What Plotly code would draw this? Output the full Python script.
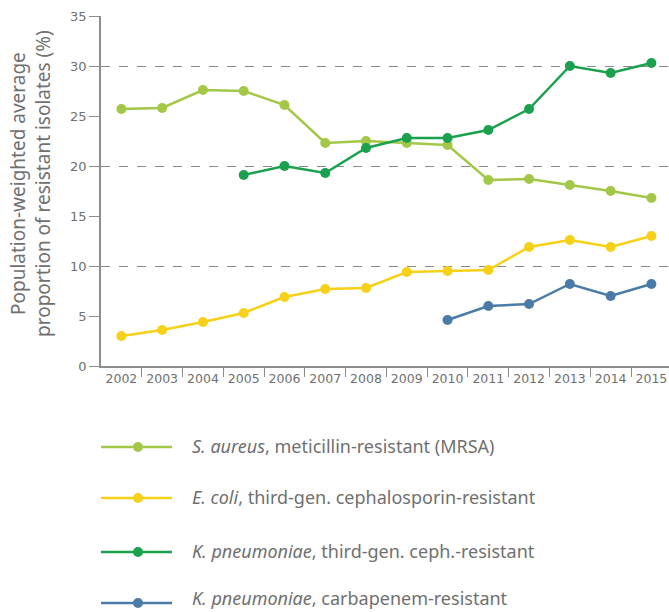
import plotly.graph_objects as go

years = list(range(2002, 2016))
mrsa = [25.7, 25.8, 27.6, 27.5, 26.1, 22.3, 22.5, 22.3, 22.1, 18.6, 18.7, 18.1, 17.5, 16.8]
ecoli = [3.0, 3.6, 4.4, 5.3, 6.9, 7.7, 7.8, 9.4, 9.5, 9.6, 11.9, 12.6, 11.9, 13.0]
kp3gc_years = list(range(2005, 2016))
kp3gc = [19.1, 20.0, 19.3, 21.8, 22.8, 22.8, 23.6, 25.7, 30.0, 29.3, 30.3]
kpcarb_years = list(range(2010, 2016))
kpcarb = [4.6, 6.0, 6.2, 8.2, 7.0, 8.2]

names = [
    "<i>S. aureus</i>, meticillin-resistant (MRSA)",
    "<i>E. coli</i>, third-gen. cephalosporin-resistant",
    "<i>K. pneumoniae</i>, third-gen. ceph.-resistant",
    "<i>K. pneumoniae</i>, carbapenem-resistant",
]
colors = ["#a3c747", "#f7d117", "#1ba14e", "#4a7ba6"]
series = [(years, mrsa), (years, ecoli), (kp3gc_years, kp3gc), (kpcarb_years, kpcarb)]

FONT = "Noto Sans"
TICKFONT = "DejaVu Sans"
GRAY = "#707070"
AX = "#8c8c8c"

fig = go.Figure()
for (xs, ys), c, n in zip(series, colors, names):
    fig.add_trace(go.Scatter(
        x=xs, y=ys, mode="lines+markers", name=n,
        line=dict(color=c, width=2.5),
        marker=dict(color=c, size=10),
        showlegend=False,
    ))

W, H = 669, 612
L, R, T, B = 101, 0, 16, 246
pw, ph = W - L - R, H - T - B

def px_x(p):
    return (p - L) / pw

def px_y(p):
    return (H - B - p) / ph

legend_y = [447, 498, 552, 603]
shapes = []
annotations = []
for i, (n, c, ly) in enumerate(zip(names, colors, legend_y)):
    yp = px_y(ly)
    shapes.append(dict(type="line", xref="paper", yref="paper",
                       x0=px_x(101), x1=px_x(172), y0=yp, y1=yp,
                       line=dict(color=c, width=2.5)))
    shapes.append(dict(type="circle", xref="paper", yref="paper",
                       xsizemode="pixel", ysizemode="pixel",
                       xanchor=px_x(138), yanchor=yp,
                       x0=-5, x1=5, y0=-5, y1=5,
                       fillcolor=c, line=dict(color=c, width=0)))
    if i == len(names) - 1:
        ty, ya = px_y(H), "bottom"
    else:
        ty, ya = px_y(ly - 1.5), "middle"
    annotations.append(dict(xref="paper", yref="paper", x=px_x(190), y=ty,
                            xanchor="left", yanchor=ya, showarrow=False,
                            text=n, font=dict(family=FONT, size=18, color=GRAY)))

annotations.append(dict(
    xref="paper", yref="paper", x=px_x(30), y=px_y(184),
    xanchor="center", yanchor="middle", showarrow=False, textangle=-90,
    text="Population-weighted average<br>proportion of resistant isolates (%)",
    font=dict(family=FONT, size=19, color=GRAY),
))

fig.update_layout(
    width=W, height=H,
    margin=dict(l=L, r=R, t=T, b=B),
    paper_bgcolor="white", plot_bgcolor="white",
    font=dict(family=FONT, color=GRAY),
    shapes=shapes, annotations=annotations,
    xaxis=dict(
        range=[2001.5, 2001.5 + pw / 40.77],
        tickvals=years, ticktext=[str(y) for y in years],
        ticks="", showgrid=False, zeroline=False,
        showline=True, linecolor=AX, linewidth=1.5,
        tickfont=dict(family=TICKFONT, size=12.5, color=GRAY),
        minor=dict(tickvals=[y + 0.5 for y in years[:-1]], ticks="outside",
                   ticklen=9, tickcolor=AX, tickwidth=1.2, showgrid=False),
    ),
    yaxis=dict(
        range=[0, 35], tickvals=[0, 5, 10, 15, 20, 25, 30, 35],
        ticks="outside", ticklen=10, tickcolor=AX, tickwidth=1.2,
        showgrid=False, zeroline=False,
        showline=True, linecolor=AX, linewidth=1.5,
        tickfont=dict(family=TICKFONT, size=13, color=GRAY),
        minor=dict(tickvals=[10, 20, 30], ticks="", showgrid=True,
                   gridcolor="#8a8a8a", griddash="dash", gridwidth=1),
    ),
)

fig.write_html("out.html", config={"displayModeBar": False},
               post_script="document.body.style.margin='0';document.body.style.overflow='hidden';")
